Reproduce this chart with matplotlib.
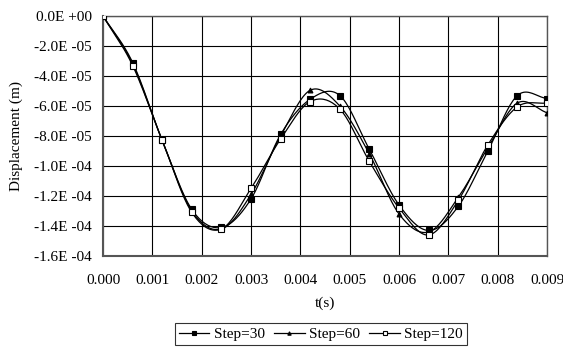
import numpy as np
import matplotlib.pyplot as plt

plt.rcParams['font.family'] = ['Liberation Serif', 'DejaVu Serif']

# time of each marker (s)
t = [0.0, 0.0006, 0.0012, 0.0018, 0.0024, 0.0030, 0.0036, 0.0042,
     0.0048, 0.0054, 0.0060, 0.0066, 0.0072, 0.0078, 0.0084, 0.0090]

# displacement in units of 1e-5 m
step30 = [0.0, -3.1, -8.3, -12.9, -14.1, -12.2, -7.9, -5.55,
          -5.3, -8.9, -12.6, -14.3, -12.7, -9.0, -5.3, -5.5]
step60 = [0.0, -3.2, -8.3, -13.0, -14.2, -11.9, -8.0, -4.95,
          -6.0, -9.2, -13.2, -14.4, -12.1, -8.8, -5.8, -6.45]
step120 = [0.0, -3.3, -8.3, -13.1, -14.2, -11.5, -8.2, -5.7,
           -6.2, -9.7, -12.8, -14.6, -12.3, -8.6, -6.05, -5.8]

labels = ['Step=30', 'Step=60', 'Step=120']
yticks = [0, -2, -4, -6, -8, -10, -12, -14, -16]
ytick_labels = ['0.0E +00', '-2.0E -05', '-4.0E -05', '-6.0E -05', '-8.0E -05',
                '-1.0E -04', '-1.2E -04', '-1.4E -04', '-1.6E -04']


# smoothed line like excel: catmull-rom through the markers
def smooth(x, y, n=20):
    x = np.asarray(x)
    y = np.asarray(y) * 1e-5
    px = np.concatenate([[2 * x[0] - x[1]], x, [2 * x[-1] - x[-2]]])
    py = np.concatenate([[2 * y[0] - y[1]], y, [2 * y[-1] - y[-2]]])
    xs, ys = [], []
    s = np.linspace(0, 1, n, endpoint=False)
    for i in range(1, len(px) - 2):
        for arr, out in ((px, xs), (py, ys)):
            p0, p1, p2, p3 = arr[i - 1], arr[i], arr[i + 1], arr[i + 2]
            out.extend(0.5 * (2 * p1 + (-p0 + p2) * s
                              + (2 * p0 - 5 * p1 + 4 * p2 - p3) * s ** 2
                              + (-p0 + 3 * p1 - 3 * p2 + p3) * s ** 3))
    xs.append(x[-1])
    ys.append(y[-1])
    return xs, ys


fig = plt.figure(figsize=(5.63, 3.56), dpi=100)
ax = fig.add_axes([0.183, 0.281, 0.7886, 0.674])

styles = [dict(marker='s', ms=4.5, mfc='black'),
          dict(marker='^', ms=3.5, mfc='black'),
          dict(marker='s', ms=4.5, mfc='white')]

for vals, lab, st in zip([step30, step60, step120], labels, styles):
    xs, ys = smooth(t, vals)
    ax.plot(xs, ys, color='black', lw=0.9, zorder=3)
    ax.plot(t, np.array(vals) * 1e-5, ls='none', mec='black', mew=0.8,
            zorder=4, **st)
    # legend proxy
    ax.plot([], [], color='black', lw=0.9, label=lab, mec='black', mew=0.8, **st)

ax.set_xlim(0, 0.009)
ax.set_ylim(-1.6e-4, 0)
ax.set_xticks(np.arange(0, 0.0091, 0.001))
ax.set_xticklabels(['%.3f' % v for v in np.arange(0, 0.0091, 0.001)])
ax.set_yticks(np.array(yticks) * 1e-5)
ax.set_yticklabels(ytick_labels)
ax.tick_params(length=0, labelsize=11, colors='black')
ax.tick_params(axis='x', pad=13)
ax.tick_params(axis='y', pad=8)
ax.grid(True, color='black', lw=0.8)
ax.set_axisbelow(True)
for sp in ax.spines.values():
    sp.set_color('#555555')
    sp.set_linewidth(1.0)
ax.spines['left'].set_linewidth(1.5)
ax.spines['bottom'].set_linewidth(1.5)

ax.set_xlabel('t(s)', fontsize=11, labelpad=7)
ax.set_ylabel('Displacement (m)', fontsize=11, labelpad=8)

leg = fig.legend(loc='lower center', bbox_to_anchor=(0.57, 0.01), ncol=3,
                 frameon=True, fancybox=False, fontsize=11, handlelength=2.0,
                 handletextpad=0.3, columnspacing=0.6, borderpad=0.25,
                 markerscale=0.7)
leg.get_frame().set_edgecolor('black')
leg.get_frame().set_linewidth(0.8)

fig.savefig('out.png', dpi=100)
